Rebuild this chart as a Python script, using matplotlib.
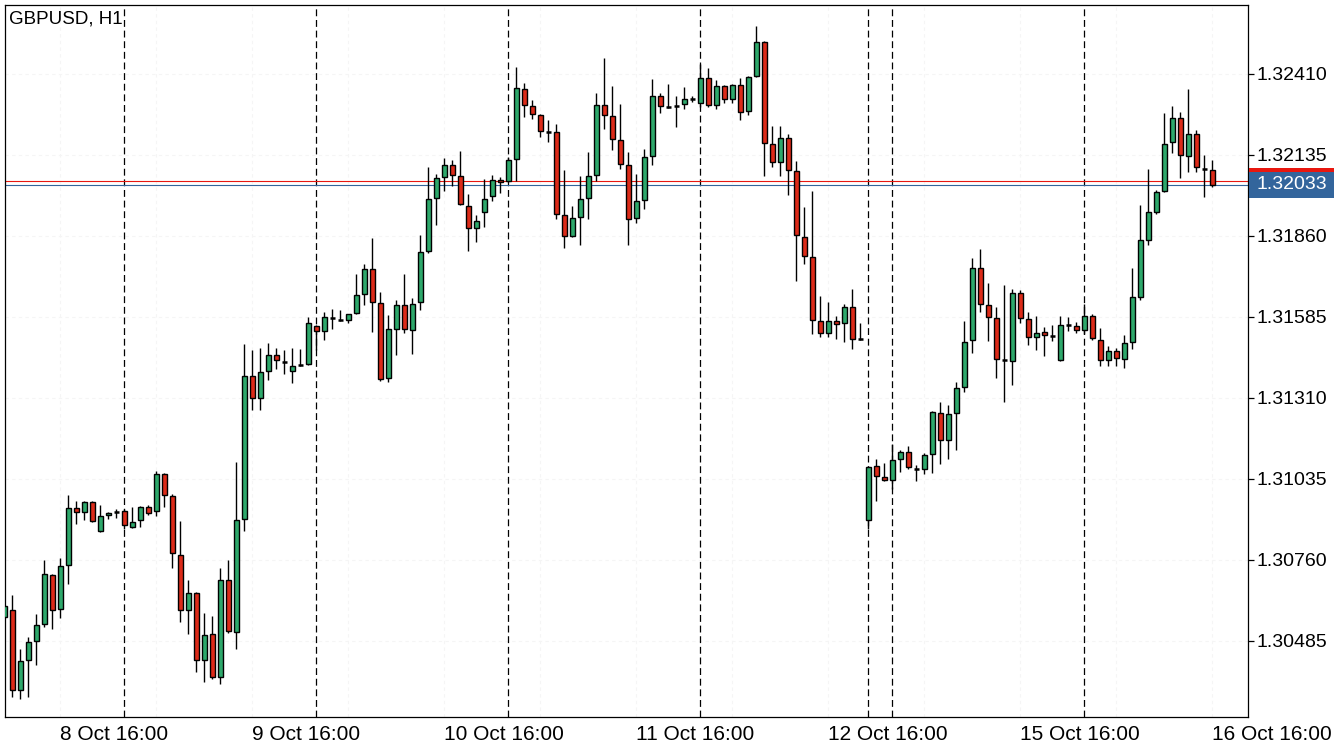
import matplotlib
matplotlib.use("Agg")
import matplotlib.pyplot as plt
from matplotlib.patches import Rectangle
from matplotlib.transforms import blended_transform_factory

# ---------------- data ----------------
chart_title = "GBPUSD, H1"

opens = [1.30567, 1.30590, 1.30319, 1.30420, 1.30485, 1.30543, 1.30709, 1.30594, 1.30743, 1.30937,
         1.30923, 1.30957, 1.30858, 1.30913, 1.30923, 1.30926, 1.30872, 1.30896, 1.30940, 1.30926,
         1.31052, 1.30977, 1.30777, 1.30590, 1.30648, 1.30420, 1.30509, 1.30363, 1.30692, 1.30516,
         1.30899, 1.31385, 1.31310, 1.31402, 1.31456, 1.31432, 1.31402, 1.31422, 1.31425, 1.31554,
         1.31537, 1.31582, 1.31575, 1.31575, 1.31599, 1.31663, 1.31748, 1.31633, 1.31378, 1.31544,
         1.31626, 1.31541, 1.31636, 1.31809, 1.31989, 1.32060, 1.32101, 1.32064, 1.31962, 1.31887,
         1.31941, 1.31996, 1.32050, 1.32047, 1.32121, 1.32359, 1.32301, 1.32271, 1.32213, 1.32213,
         1.31931, 1.31860, 1.31925, 1.31989, 1.32067, 1.32305, 1.32267, 1.32186, 1.32101, 1.31921,
         1.31982, 1.32132, 1.32335, 1.32298, 1.32301, 1.32308, 1.32325, 1.32312, 1.32396, 1.32305,
         1.32369, 1.32325, 1.32373, 1.32284, 1.32403, 1.32519, 1.32172, 1.32111, 1.32193, 1.32081,
         1.31857, 1.31789, 1.31571, 1.31531, 1.31571, 1.31565, 1.31619, 1.31510, 1.30896, 1.31079,
         1.31042, 1.31032, 1.31103, 1.31127, 1.31069, 1.31069, 1.31120, 1.31259, 1.31167, 1.31259,
         1.31347, 1.31507, 1.31751, 1.31626, 1.31582, 1.31439, 1.31436, 1.31667, 1.31578, 1.31517,
         1.31534, 1.31521, 1.31439, 1.31558, 1.31554, 1.31541, 1.31588, 1.31507, 1.31439, 1.31470,
         1.31442, 1.31500, 1.31653, 1.31846, 1.31941, 1.32013, 1.32179, 1.32261, 1.32132, 1.32206,
         1.32087, 1.32084]
highs = [1.30607, 1.30641, 1.30458, 1.30499, 1.30577, 1.30760, 1.30712, 1.30767, 1.30981, 1.30960,
         1.30960, 1.30960, 1.30947, 1.30923, 1.30933, 1.30933, 1.30940, 1.30943, 1.30947, 1.31062,
         1.31055, 1.30984, 1.30892, 1.30692, 1.30651, 1.30580, 1.30570, 1.30733, 1.30760, 1.31093,
         1.31493, 1.31473, 1.31480, 1.31497, 1.31480, 1.31473, 1.31480, 1.31476, 1.31585, 1.31558,
         1.31602, 1.31612, 1.31609, 1.31595, 1.31731, 1.31765, 1.31853, 1.31670, 1.31592, 1.31643,
         1.31731, 1.31649, 1.31863, 1.32094, 1.32071, 1.32125, 1.32118, 1.32149, 1.32003, 1.31931,
         1.32054, 1.32067, 1.32060, 1.32128, 1.32434, 1.32379, 1.32322, 1.32274, 1.32254, 1.32240,
         1.32084, 1.31962, 1.32064, 1.32145, 1.32346, 1.32464, 1.32369, 1.32308, 1.32145, 1.32071,
         1.32155, 1.32393, 1.32346, 1.32376, 1.32335, 1.32366, 1.32335, 1.32444, 1.32430, 1.32390,
         1.32373, 1.32376, 1.32396, 1.32403, 1.32573, 1.32522, 1.32233, 1.32233, 1.32206, 1.32115,
         1.31958, 1.32013, 1.31656, 1.31636, 1.31588, 1.31629, 1.31680, 1.31565, 1.31079, 1.31103,
         1.31089, 1.31154, 1.31133, 1.31147, 1.31083, 1.31123, 1.31266, 1.31296, 1.31286, 1.31364,
         1.31571, 1.31785, 1.31816, 1.31700, 1.31619, 1.31694, 1.31680, 1.31677, 1.31602, 1.31588,
         1.31551, 1.31558, 1.31588, 1.31585, 1.31568, 1.31629, 1.31595, 1.31548, 1.31487, 1.31480,
         1.31524, 1.31751, 1.31965, 1.32087, 1.32016, 1.32278, 1.32301, 1.32281, 1.32359, 1.32220,
         1.32135, 1.32118]
lows = [1.30563, 1.30295, 1.30288, 1.30295, 1.30403, 1.30532, 1.30526, 1.30563, 1.30679, 1.30882,
        1.30896, 1.30889, 1.30855, 1.30899, 1.30903, 1.30865, 1.30869, 1.30872, 1.30913, 1.30909,
        1.30940, 1.30733, 1.30550, 1.30509, 1.30380, 1.30346, 1.30356, 1.30339, 1.30512, 1.30458,
        1.30858, 1.31269, 1.31269, 1.31371, 1.31408, 1.31392, 1.31361, 1.31419, 1.31422, 1.31473,
        1.31507, 1.31544, 1.31571, 1.31565, 1.31595, 1.31626, 1.31534, 1.31368, 1.31364, 1.31456,
        1.31531, 1.31459, 1.31609, 1.31802, 1.31897, 1.32013, 1.32030, 1.31965, 1.31809, 1.31840,
        1.31891, 1.31979, 1.32006, 1.32043, 1.32047, 1.32264, 1.32257, 1.32196, 1.32179, 1.31918,
        1.31819, 1.31857, 1.31829, 1.31918, 1.32047, 1.32223, 1.32152, 1.32087, 1.31829, 1.31904,
        1.31952, 1.32101, 1.32278, 1.32295, 1.32230, 1.32291, 1.32315, 1.32298, 1.32298, 1.32291,
        1.32312, 1.32312, 1.32254, 1.32271, 1.32400, 1.32064, 1.32094, 1.32064, 1.31999, 1.31707,
        1.31765, 1.31527, 1.31517, 1.31517, 1.31510, 1.31500, 1.31476, 1.31507, 1.30865, 1.30960,
        1.31028, 1.31001, 1.31059, 1.31069, 1.31028, 1.31052, 1.31055, 1.31086, 1.31103, 1.31133,
        1.31330, 1.31463, 1.31602, 1.31504, 1.31378, 1.31296, 1.31354, 1.31565, 1.31490, 1.31473,
        1.31453, 1.31504, 1.31436, 1.31537, 1.31531, 1.31527, 1.31507, 1.31419, 1.31419, 1.31419,
        1.31412, 1.31476, 1.31643, 1.31829, 1.31935, 1.32009, 1.32142, 1.32057, 1.32077, 1.32077,
        1.31992, 1.32026]
closes = [1.30604, 1.30319, 1.30417, 1.30482, 1.30539, 1.30712, 1.30590, 1.30740, 1.30937, 1.30923,
          1.30957, 1.30892, 1.30909, 1.30920, 1.30923, 1.30879, 1.30889, 1.30940, 1.30920, 1.31052,
          1.30981, 1.30784, 1.30590, 1.30648, 1.30420, 1.30505, 1.30363, 1.30692, 1.30519, 1.30896,
          1.31385, 1.31310, 1.31398, 1.31456, 1.31439, 1.31432, 1.31419, 1.31422, 1.31565, 1.31537,
          1.31585, 1.31582, 1.31575, 1.31595, 1.31660, 1.31748, 1.31636, 1.31375, 1.31544, 1.31626,
          1.31544, 1.31629, 1.31806, 1.31986, 1.32057, 1.32101, 1.32067, 1.31969, 1.31887, 1.31911,
          1.31986, 1.32050, 1.32043, 1.32118, 1.32362, 1.32305, 1.32274, 1.32216, 1.32213, 1.31935,
          1.31860, 1.31921, 1.31986, 1.32064, 1.32305, 1.32271, 1.32189, 1.32104, 1.31918, 1.31979,
          1.32128, 1.32335, 1.32301, 1.32298, 1.32301, 1.32325, 1.32325, 1.32396, 1.32305, 1.32369,
          1.32325, 1.32373, 1.32281, 1.32400, 1.32519, 1.32176, 1.32111, 1.32193, 1.32084, 1.31863,
          1.31792, 1.31575, 1.31531, 1.31571, 1.31561, 1.31619, 1.31510, 1.31510, 1.31076, 1.31045,
          1.31032, 1.31100, 1.31127, 1.31076, 1.31069, 1.31117, 1.31263, 1.31167, 1.31256, 1.31344,
          1.31500, 1.31751, 1.31629, 1.31585, 1.31442, 1.31439, 1.31667, 1.31582, 1.31517, 1.31531,
          1.31524, 1.31521, 1.31558, 1.31558, 1.31541, 1.31588, 1.31514, 1.31439, 1.31470, 1.31446,
          1.31497, 1.31653, 1.31846, 1.31941, 1.32009, 1.32172, 1.32261, 1.32135, 1.32206, 1.32094,
          1.32087, 1.32033]

day_separator_bars = [15, 39, 63, 87, 108, 111, 135]
time_label_bars = [7, 31, 55, 79, 103, 127, 151]
time_labels = ["8 Oct 16:00", "9 Oct 16:00", "10 Oct 16:00", "11 Oct 16:00",
               "12 Oct 16:00", "15 Oct 16:00", "16 Oct 16:00"]
grid_bars = [7, 19, 31, 43, 55, 67, 79, 91, 103, 115, 127, 139, 151]
price_ticks = [1.30485, 1.30760, 1.31035, 1.31310, 1.31585, 1.31860, 1.32135, 1.32410]
bid_price = 1.32033
ask_price = 1.32046

# ---------------- style ----------------
BULL = "#2ea86b"
BEAR = "#dc2b19"
BID_BLUE = "#33659c"
ASK_RED = "#e8170f"
FONT = "Liberation Sans"
plt.rcParams["font.family"] = [FONT, "DejaVu Sans"]

W, H = 1334, 750
fig = plt.figure(figsize=(W / 100, H / 100), dpi=100)
fig.patch.set_facecolor("white")
ax = fig.add_axes([5 / W, 1 - 717 / H, 1243 / W, 712 / H])
ax.set_xlim(0.09, 155.46)
ax.set_ylim(1.30227, 1.32644)

# very faint grid
for g in grid_bars:
    ax.axvline(g, color="#f5f5f5", lw=0.8, ls=(0, (3, 3)), zorder=0)
for p in price_ticks:
    ax.axhline(p, color="#f5f5f5", lw=0.8, ls=(0, (3, 3)), zorder=0)

# day separators
for s in day_separator_bars:
    ax.axvline(s, color="black", lw=0.9, ls=(0, (5.5, 3.0)), zorder=1)

# bid / ask lines
ax.axhline(ask_price, color=ASK_RED, lw=0.8, zorder=2)
ax.axhline(bid_price, color=BID_BLUE, lw=0.8, zorder=2)

# candles
body_w = 0.56
for i, (o, h, l, c) in enumerate(zip(opens, highs, lows, closes)):
    ax.vlines(i, l, h, color="black", lw=1.0, zorder=3)
    if o == c:
        ax.hlines(o, i - body_w / 2 - 0.05, i + body_w / 2 + 0.05, color="black", lw=1.8, zorder=4)
    else:
        ax.add_patch(Rectangle((i - body_w / 2, min(o, c)), body_w, abs(c - o),
                               facecolor=BULL if c > o else BEAR, edgecolor="black",
                               lw=1.0, zorder=4))

# axes styling
for sp in ax.spines.values():
    sp.set_color("black")
    sp.set_linewidth(0.9)
ax.yaxis.tick_right()
ax.set_yticks(price_ticks)
ax.set_yticklabels([f"{p:.5f}" for p in price_ticks])
ax.tick_params(axis="y", direction="out", length=4, width=0.9, pad=2,
               labelsize=14, colors="black")
ax.set_xticks(time_label_bars)
ax.set_xticklabels(time_labels)
ax.tick_params(axis="x", length=0, pad=6, labelsize=15)
for lbl in ax.get_xticklabels():
    lbl.set_horizontalalignment("left")

# price labels on the right axis
tr = blended_transform_factory(fig.transFigure, ax.transData)
box_h = 26 / 29458
ax.add_patch(Rectangle((1249 / W, ask_price - box_h / 2), 85 / W, box_h, transform=tr,
                       facecolor=ASK_RED, edgecolor="none", clip_on=False, zorder=6))
ax.add_patch(Rectangle((1249 / W, bid_price - box_h / 2), 85 / W, box_h, transform=tr,
                       facecolor=BID_BLUE, edgecolor="none", clip_on=False, zorder=7))
ax.text(1256 / W, bid_price, f"{bid_price:.5f}", transform=tr, color="white",
        fontsize=14, va="center", ha="left", zorder=8, clip_on=False)

# title
fig.text(9 / W, 1 - 10 / H, chart_title, fontsize=13.5, va="top", ha="left", color="black")

fig.savefig("out.png", dpi=100, facecolor="white")
